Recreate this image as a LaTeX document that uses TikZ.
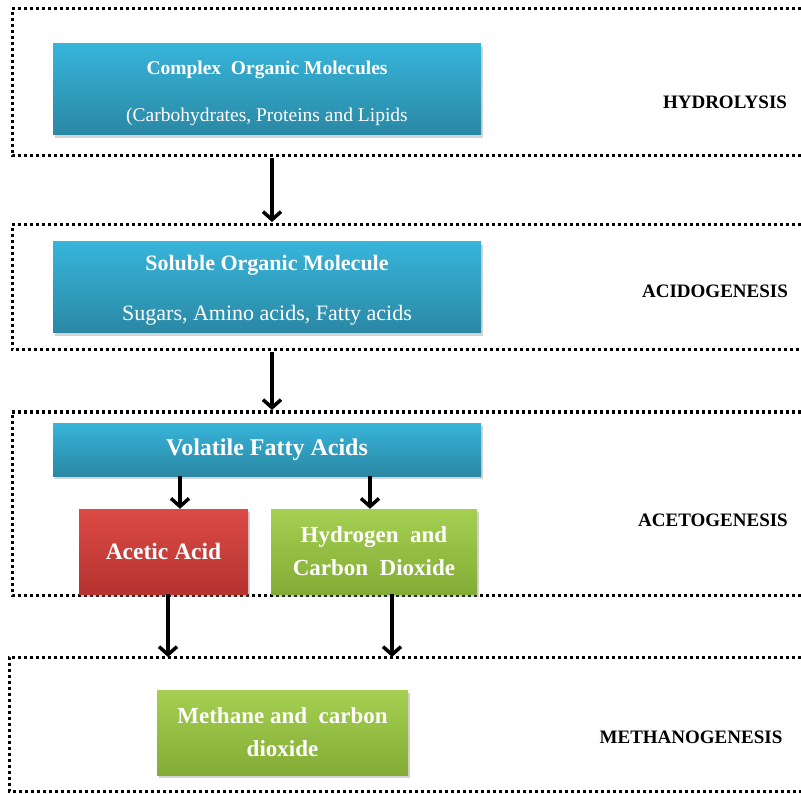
\documentclass[tikz,border=0pt]{standalone}
\usepackage{fontspec}
\setmainfont{Liberation Serif}
\usetikzlibrary{arrows.meta,shadows}
\definecolor{bluetop}{HTML}{37B4DA}
\definecolor{bluebot}{HTML}{2A88A4}
\definecolor{redtop}{HTML}{DC4B45}
\definecolor{redbot}{HTML}{B53230}
\definecolor{greentop}{HTML}{A6D052}
\definecolor{greenbot}{HTML}{82AC34}
\tikzset{
  frameline/.style={line width=3pt, dash pattern=on 3pt off 3pt},
  boxbase/.style={draw=none, inner sep=0pt, align=center, text=white,
     drop shadow={shadow xshift=2pt, shadow yshift=-3pt, opacity=0.35}},
  boxtext/.style={inner sep=0pt, align=center, text=white},
  bluebox/.style={boxbase, top color=bluetop, bottom color=bluebot},
  redbox/.style={boxbase, top color=redtop, bottom color=redbot},
  greenbox/.style={boxbase, top color=greentop, bottom color=greenbot},
  phase/.style={font=\bfseries\fontsize{19}{21}\selectfont, text=black},
  flow/.style={line width=3.5pt, -{Straight Barb[length=8pt,width=18pt,line width=3.5pt]}},
}
\begin{document}
\begin{tikzpicture}[x=1pt,y=-1pt]
\useasboundingbox (0,0) rectangle (801,794);
% frames (open on right)
\draw[frameline] (801,9) -- (12,9) -- (12,156) -- (801,156);
\draw[frameline] (801,225) -- (12,225) -- (12,350) -- (801,350);
\draw[frameline] (801,412) -- (12,412) -- (12,595) -- (801,595);
\draw[frameline] (801,657) -- (9,657) -- (9,791) -- (801,791);
\coordinate (f1b) at (272,158);
\coordinate (f2t) at (272,222);
\coordinate (f2b) at (272,352);
\coordinate (f3t) at (272,410);
\coordinate (f4a) at (168,657);
\coordinate (f4b) at (392,657);
% boxes
\node[bluebox, minimum width=428pt, minimum height=91pt] (com) at (267,89.5) {};
\node[boxtext, font=\fontsize{19.5}{23}\selectfont] (comt) at ([yshift=-4pt]com.center)
  {\bfseries Complex\ \ Organic Molecules\\[24pt]
   (Carbohydrates, Proteins and Lipids};
\node[bluebox, minimum width=428pt, minimum height=91pt] (sol) at (267,287.5) {};
\node[boxtext, font=\fontsize{22}{25}\selectfont] (solt) at ([yshift=-2.5pt]sol.center)
  {\bfseries Soluble Organic Molecule\\[25pt]
   Sugars, Amino acids, Fatty acids};
\node[bluebox, minimum width=428pt, minimum height=53pt, font=\bfseries\fontsize{24}{26}\selectfont] (vfa) at (267,449.5)
  {Volatile Fatty Acids};
\node[redbox, minimum width=169pt, minimum height=85pt, font=\bfseries\fontsize{23.5}{26}\selectfont] (ace) at (163.5,551.5)
  {Acetic Acid};
\node[greenbox, minimum width=206pt, minimum height=85pt, font=\bfseries\fontsize{23}{33}\selectfont] (hyd) at (374,551.5)
  {Hydrogen\ \ and\\Carbon\ \ Dioxide};
\node[greenbox, minimum width=251pt, minimum height=85pt, font=\bfseries\fontsize{23}{33}\selectfont] (met) at (282.5,732.5)
  {Methane and\ \ carbon\\dioxide};
% phase labels
\node[phase] (l1) at (725,102) {HYDROLYSIS};
\node[phase] (l2) at (715,291) {ACIDOGENESIS};
\node[phase] (l3) at (713,520) {ACETOGENESIS};
\node[phase] (l4) at (691,737) {METHANOGENESIS};
% arrows
\draw[flow] (f1b) -- (f2t);
\draw[flow] (f2b) -- (f3t);
\draw[flow] (vfa.south -| 180,0) -- (ace.north -| 180,0);
\draw[flow] (vfa.south -| 370,0) -- (hyd.north -| 370,0);
\draw[flow] (ace.south -| f4a) -- (f4a);
\draw[flow] (hyd.south -| f4b) -- (f4b);
\end{tikzpicture}
\end{document}
